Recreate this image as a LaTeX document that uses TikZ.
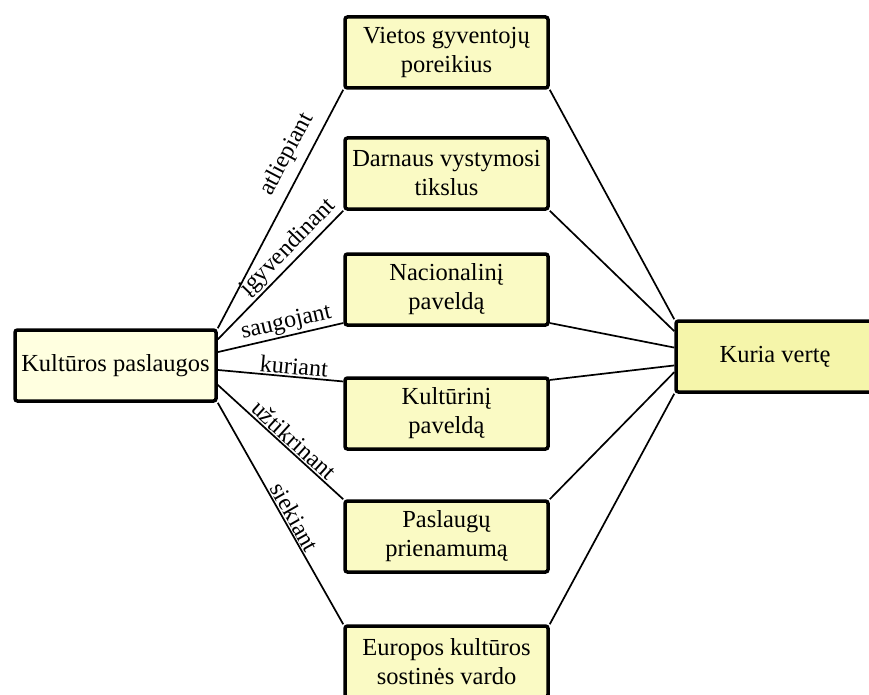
\documentclass[tikz,border=0pt]{standalone}
\usepackage{fontspec}
\setmainfont{Liberation Serif}
\usetikzlibrary{calc}
\pgfdeclarelayer{bg}
\pgfsetlayers{bg,main}
\definecolor{fillL}{HTML}{FFFFE0}
\definecolor{fillM}{HTML}{FAFAC4}
\definecolor{fillR}{HTML}{F5F5AA}
\begin{document}
\begin{tikzpicture}[x=1pt,y=-1pt,
  box/.style={draw, line width=3.5pt, rounded corners=2.5pt, minimum width=203pt,
    minimum height=71pt, inner sep=0pt, align=center,
    font=\fontsize{24.5}{29}\selectfont, fill=fillM},
  conn/.style={line width=1.7pt},
  lbl/.style={sloped, above, inner sep=1.5pt, font=\fontsize{24}{28}\selectfont}]
\useasboundingbox (0,0) rectangle (869,695);
\clip (0,0) rectangle (869,695);

\node[box, fill=fillL, minimum width=201pt] (L) at (115.5,365.5) {Kultūros paslaugos};
\node[box] (V) at (446.5,52.5) {Vietos gyventojų\\poreikius};
\node[box] (D) at (446.5,173.5) {Darnaus vystymosi\\tikslus};
\node[box] (N) at (446.5,289.5) {Nacionalinį\\paveldą};
\node[box] (K) at (446.5,413.5) {Kultūrinį\\paveldą};
\node[box] (P) at (446.5,536.5) {Paslaugų\\prienamumą};
\node[box] (E) at (446.5,661.5) {Europos kultūros\\sostinės vardo};
\node[box, fill=fillR, minimum width=198pt] (R) at (775,356.5) {Kuria vertę};

\begin{pgfonlayer}{bg}
\draw[conn] (L.north east) -- node[lbl,pos=0.69,above=6pt]{atliepiant} (V.south west);
\draw[conn] ($(L.north east)!0.15!(L.south east)$) -- node[lbl,pos=0.64]{įgyvendinant} (D.south west);
\draw[conn] ($(L.north east)!0.32!(L.south east)$) -- node[lbl,pos=0.57]{saugojant} ($(N.north west)!0.95!(N.south west)$);
\draw[conn] ($(L.north east)!0.56!(L.south east)$) -- node[lbl,pos=0.6]{kuriant} ($(K.north west)!0.07!(K.south west)$);
\draw[conn] ($(L.north east)!0.76!(L.south east)$) -- node[lbl,pos=0.55]{užtikrinant} (P.north west);
\draw[conn] (L.south east) -- node[lbl,pos=0.54]{siekiant} (E.north west);

\draw[conn] (V.south east) -- (R.north west);
\draw[conn] (D.south east) -- ($(R.north west)!0.16!(R.south west)$);
\draw[conn] ($(N.north east)!0.95!(N.south east)$) -- ($(R.north west)!0.38!(R.south west)$);
\draw[conn] ($(K.north east)!0.05!(K.south east)$) -- ($(R.north west)!0.62!(R.south west)$);
\draw[conn] (P.north east) -- ($(R.north west)!0.71!(R.south west)$);
\draw[conn] (E.north east) -- (R.south west);
\end{pgfonlayer}
\end{tikzpicture}
\end{document}
